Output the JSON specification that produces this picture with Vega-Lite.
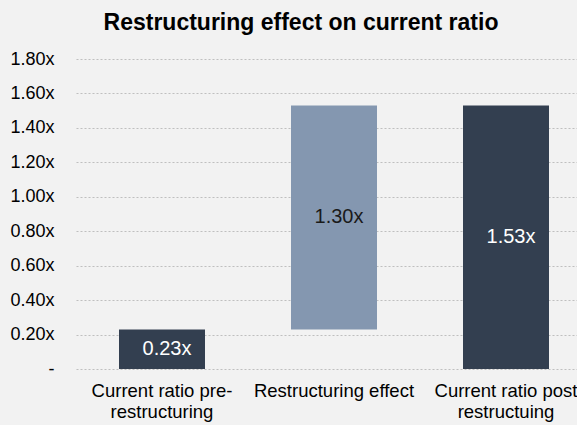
{
  "$schema": "https://vega.github.io/schema/vega-lite/v6.json",
  "autosize": {"type": "none"},
  "padding": {"left": 76, "top": 59, "right": 0, "bottom": 56},
  "width": 516,
  "height": 310,
  "background": "#f2f2f2",
  "title": {
    "text": "Restructuring effect on current ratio",
    "font": "Liberation Sans",
    "fontSize": 23,
    "fontWeight": "bold",
    "color": "#000000",
    "anchor": "middle",
    "dx": -33,
    "offset": 15
  },
  "config": {
    "view": {"stroke": null},
    "font": "Liberation Sans"
  },
  "data": {
    "values": [
      {"step": "Current ratio pre-|restructuring", "start": 0, "end": 0.23, "label": "0.23x", "type": "total"},
      {"step": "Restructuring effect", "start": 0.23, "end": 1.53, "label": "1.30x", "type": "change"},
      {"step": "Current ratio post|restructuing", "start": 0, "end": 1.53, "label": "1.53x", "type": "total"}
    ]
  },
  "transform": [
    {"calculate": "(datum.start + datum.end) / 2", "as": "mid"}
  ],
  "encoding": {
    "x": {
      "field": "step",
      "type": "nominal",
      "sort": null,
      "scale": {"paddingInner": 0.5, "paddingOuter": 0.25},
      "axis": {
        "title": null,
        "labelAngle": 0,
        "domain": false,
        "ticks": false,
        "labelPadding": 12,
        "labelFontSize": 18.5,
        "labelColor": "#000000",
        "labelLineHeight": 21,
        "labelOverlap": false,
        "labelExpr": "split(datum.label, '|')"
      }
    }
  },
  "layer": [
    {
      "mark": {"type": "bar"},
      "encoding": {
        "y": {
          "field": "start",
          "type": "quantitative",
          "scale": {"domain": [0, 1.8], "nice": false},
          "axis": {
            "title": null,
            "values": [0, 0.2, 0.4, 0.6, 0.8, 1.0, 1.2, 1.4, 1.6, 1.8],
            "labelExpr": "datum.value == 0 ? '-    ' : format(datum.value, '.2f') + 'x'",
            "labelFontSize": 18,
            "labelColor": "#000000",
            "labelPadding": 22,
            "labelOverlap": false,
            "labelFlush": false,
            "domain": false,
            "ticks": false,
            "grid": true,
            "gridColor": "#bfbfbf",
            "gridDash": [2, 2],
            "gridWidth": 1
          }
        },
        "y2": {"field": "end"},
        "color": {
          "field": "type",
          "type": "nominal",
          "scale": {"domain": ["total", "change"], "range": ["#333f50", "#8497b0"]},
          "legend": null
        }
      }
    },
    {
      "mark": {"type": "text", "fontSize": 20, "align": "center", "baseline": "middle", "dx": 5},
      "encoding": {
        "y": {
          "field": "mid",
          "type": "quantitative",
          "axis": {
            "title": null,
            "values": [0, 0.2, 0.4, 0.6, 0.8, 1.0, 1.2, 1.4, 1.6, 1.8],
            "labelExpr": "datum.value == 0 ? '-    ' : format(datum.value, '.2f') + 'x'",
            "labelFontSize": 18,
            "labelColor": "#000000",
            "labelPadding": 22,
            "labelOverlap": false,
            "labelFlush": false,
            "domain": false,
            "ticks": false,
            "grid": true,
            "gridColor": "#bfbfbf",
            "gridDash": [2, 2],
            "gridWidth": 1
          }
        },
        "text": {"field": "label"},
        "color": {
          "condition": {"test": "datum.type == 'change'", "value": "#1a1a1a"},
          "value": "#ffffff"
        }
      }
    }
  ]
}
